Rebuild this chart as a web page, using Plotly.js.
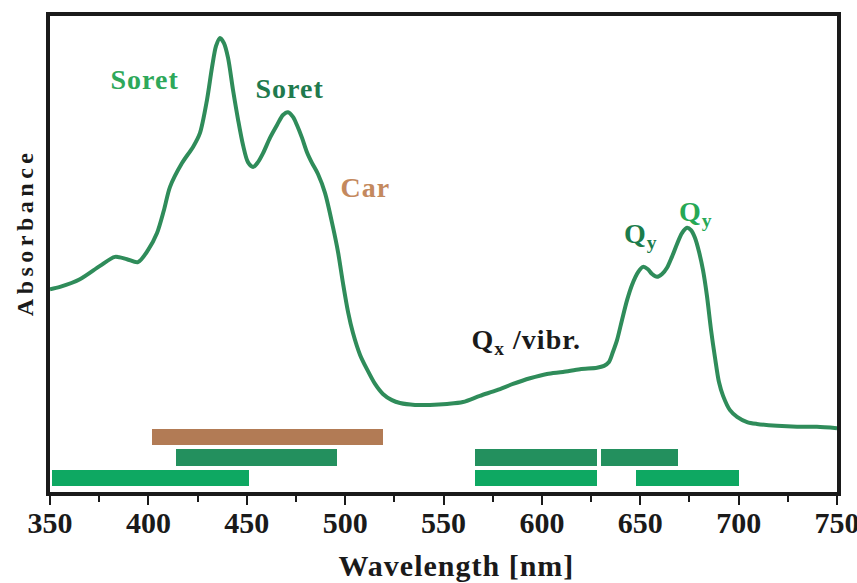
<!DOCTYPE html>
<html>
<head>
<meta charset="utf-8">
<script src="https://cdn.plot.ly/plotly-3.0.1.min.js"></script>
<style>
  html, body { margin: 0; padding: 0; background: #ffffff; overflow: hidden; }
  #chart { width: 880px; height: 583px; }
  /* a little tracking on the bold serif labels */
  #chart .annotation text { letter-spacing: 1px; }
  #chart .annotation[data-index="7"] text { letter-spacing: 4.5px; }
</style>
</head>
<body>
<div id="chart"></div>
<script>
// Absorption spectrum (arbitrary absorbance units)
const wavelength = [
  350.0, 355.1, 365.2, 375.4, 383.0, 389.1, 394.7, 399.8, 404.4, 407.9,
  411.0, 417.1, 422.7, 426.2, 429.8, 432.3, 434.4, 436.4, 438.4, 440.5,
  443.0, 445.6, 448.1, 450.6, 453.2, 455.7, 458.3, 461.8, 465.4, 468.4,
  471.0, 473.5, 475.5, 478.1, 480.6, 483.2, 486.2, 489.8, 493.8, 496.4,
  498.9, 501.5, 504.0, 507.6, 511.1, 515.2, 519.2, 523.8, 527.9, 535.5,
  543.1, 551.8, 559.9, 568.5, 577.2, 585.3, 594.0, 602.6, 610.7, 619.4,
  628.0, 631.6, 634.1, 636.1, 638.2, 640.7, 643.3, 645.8, 648.9, 651.4,
  653.9, 656.0, 658.5, 661.1, 663.6, 666.1, 668.7, 671.2, 673.8, 675.8,
  677.8, 679.9, 681.9, 683.9, 686.0, 688.0, 690.0, 692.1, 695.6, 699.2,
  704.3, 709.3, 719.5, 729.7, 739.8, 750.0
];
const absorbance = [
  0.426, 0.431, 0.447, 0.475, 0.494, 0.489, 0.483, 0.508, 0.544, 0.592,
  0.641, 0.691, 0.725, 0.754, 0.824, 0.891, 0.937, 0.954, 0.943, 0.912,
  0.845, 0.782, 0.729, 0.693, 0.683, 0.693, 0.712, 0.744, 0.771, 0.792,
  0.798, 0.788, 0.771, 0.744, 0.714, 0.691, 0.668, 0.628, 0.557, 0.504,
  0.439, 0.378, 0.334, 0.288, 0.258, 0.227, 0.206, 0.193, 0.187, 0.183,
  0.183, 0.185, 0.189, 0.202, 0.214, 0.227, 0.239, 0.248, 0.252, 0.258,
  0.261, 0.265, 0.273, 0.294, 0.319, 0.361, 0.403, 0.435, 0.462, 0.473,
  0.468, 0.458, 0.452, 0.458, 0.471, 0.494, 0.521, 0.544, 0.555, 0.550,
  0.534, 0.504, 0.466, 0.412, 0.340, 0.282, 0.231, 0.202, 0.172, 0.158,
  0.147, 0.143, 0.139, 0.137, 0.137, 0.134
];

// Absorption bands (nm): start, end and the row they sit in
const bandStart = [402, 414, 566, 630, 351, 566, 648];
const bandEnd   = [519, 496, 628, 669, 451, 628, 700];
const bandRow   = [3, 2, 2, 2, 1, 1, 1];

// Axis ticks
const tickValues = [350, 400, 450, 500, 550, 600, 650, 700, 750];
const tickLabels = ['350', '400', '450', '500', '550', '600', '650', '700', '750'];
const minorTickValues = [375, 425, 475, 525, 575, 625, 675, 725];

// Peak labels
const labelText = ['Soret', 'Soret', 'Car', 'Q<sub>y</sub>', 'Q<sub>y</sub>', 'Q<sub>x</sub> /vibr.'];
const labelX    = [398.3, 472.0, 510.6, 650.4, 678.3, 592.4];
const labelY    = [0.866, 0.847, 0.639, 0.538, 0.586, 0.317];

// Axis titles
const xTitle = 'Wavelength [nm]';
const yTitle = 'Absorbance';

const rowColors = { 1: '#0ea862', 2: '#23905e', 3: '#b27b55' };
const labelColors = ['#2ea85a', '#1f7a4e', '#c4895e', '#1b7c4c', '#26a855', '#1a1a1a'];

const serif = '"Liberation Serif", "Times New Roman", serif';

const spectrum = {
  x: wavelength,
  y: absorbance,
  type: 'scatter',
  mode: 'lines',
  line: { color: '#2f8c5a', width: 4, shape: 'spline', smoothing: 0.8 },
  hoverinfo: 'x+y',
  showlegend: false
};

const bands = {
  type: 'bar',
  orientation: 'h',
  base: bandStart,
  x: bandStart.map((s, i) => bandEnd[i] - s),
  y: bandRow,
  yaxis: 'y2',
  width: 0.82,
  marker: { color: bandRow.map(r => rowColors[r]), line: { width: 0 } },
  hoverinfo: 'skip',
  showlegend: false
};

const peakLabels = labelText.map((t, i) => ({
  x: labelX[i],
  y: labelY[i],
  xref: 'x',
  yref: 'y',
  text: '<b>' + t + '</b>',
  showarrow: false,
  xanchor: 'center',
  yanchor: 'middle',
  font: { family: serif, size: 28, color: labelColors[i] }
}));

const axisTitles = [
  {
    x: 0.516, y: -0.155, xref: 'paper', yref: 'paper',
    text: '<b>' + xTitle + '</b>', showarrow: false,
    xanchor: 'center', yanchor: 'middle',
    font: { family: serif, size: 30, color: '#1a1a1a' }
  },
  {
    x: -0.031, y: 0.546, xref: 'paper', yref: 'paper',
    text: '<b>' + yTitle + '</b>', showarrow: false, textangle: -90,
    xanchor: 'center', yanchor: 'middle',
    font: { family: serif, size: 24, color: '#1a1a1a' }
  }
];

// the figure runs past the right edge of the window so the last tick label is cut by the frame
const layout = {
  width: 880,
  height: 583,
  margin: { l: 50, r: 43, t: 16, b: 91 },
  paper_bgcolor: '#ffffff',
  plot_bgcolor: '#ffffff',
  showlegend: false,
  xaxis: {
    range: [350, 750],
    showgrid: false,
    zeroline: false,
    showline: true,
    linecolor: '#1a1a1a',
    linewidth: 4,
    mirror: true,
    ticks: 'outside',
    ticklen: 9,
    tickwidth: 2,
    tickcolor: '#1a1a1a',
    tickvals: tickValues,
    ticktext: tickLabels,
    ticklabelstandoff: -8,
    minor: { tickvals: minorTickValues, ticks: 'outside', ticklen: 6, tickwidth: 2, tickcolor: '#1a1a1a' },
    tickfont: { family: serif, size: 30, color: '#1a1a1a', weight: 'bold' }
  },
  yaxis: {
    range: [0, 1],
    showgrid: false,
    zeroline: false,
    showline: true,
    linecolor: '#1a1a1a',
    linewidth: 4,
    mirror: true,
    ticks: '',
    showticklabels: false
  },
  yaxis2: {
    overlaying: 'y',
    range: [0.317, 23.54],
    showgrid: false,
    zeroline: false,
    showline: false,
    showticklabels: false,
    ticks: ''
  },
  bargap: 0,
  annotations: peakLabels.concat(axisTitles)
};

Plotly.newPlot('chart', [bands, spectrum], layout, { displayModeBar: false, staticPlot: true });
</script>
</body>
</html>
